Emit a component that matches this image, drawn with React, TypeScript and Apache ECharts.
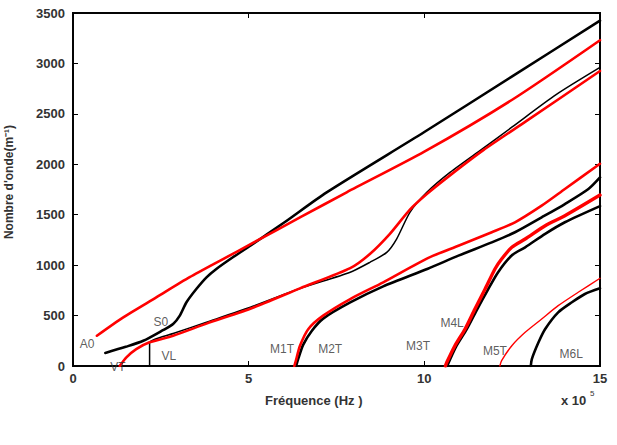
import React, { useEffect, useRef } from "react";
import * as echarts from "echarts";

// Axis ranges: frequency in units of 10^5 Hz, wavenumber in m^-1
const xRange = [0, 15];
const xStep = 5;
const yRange = [0, 3500];
const yStep = 500;

// Dispersion curves, points as [frequency (x10^5 Hz), wavenumber (m^-1)]
const modeA0 = [
  [0.68, 300], [1.42, 480], [2.37, 680], [3.32, 880], [4.27, 1060], [5.12, 1220],
  [6.5, 1480], [7.79, 1722], [10, 2125], [12.5, 2640], [15, 3230],
];
const modeS0 = [
  [0.92, 129], [1.5, 190], [2.0, 250], [2.56, 355], [2.85, 416], [3.04, 499],
  [3.23, 632], [3.51, 763], [3.8, 879], [4.08, 962], [4.55, 1078], [5.12, 1210],
  [6, 1420], [7.22, 1722], [10, 2320], [12.5, 2872], [15, 3424],
];
const modeVT = [
  [1.33, 0], [1.52, 86], [1.8, 168], [2.18, 235], [2.85, 300], [3.8, 420],
  [5.12, 578], [6.46, 770], [7.89, 970], [8.45, 1110], [9.02, 1310], [9.59, 1550],
  [10.07, 1705], [10.73, 1890], [11.68, 2140], [12.91, 2430], [15, 2925],
];
const modeVLRise = [[2.18, 0], [2.18, 240]];
const modeVL = [
  [2.18, 240], [2.35, 268], [2.85, 322], [3.8, 434], [5.12, 592], [6.46, 768],
  [7.89, 930], [8.45, 1028], [8.93, 1127], [9.21, 1259], [9.59, 1524], [10.07, 1722],
  [10.73, 1920], [11.68, 2160], [12.5, 2370], [13.75, 2690], [15, 2960],
];
const modeM1T = [
  [6.3, 0], [6.35, 60], [6.46, 200], [6.7, 367], [7.12, 499], [7.89, 664], [8.83, 830],
  [10.1, 1070], [10.97, 1193], [11.92, 1326], [12.58, 1425], [13.34, 1590], [14.0, 1755],
  [15, 2005],
];
const modeM2T = [
  [6.35, 0], [6.42, 80], [6.55, 210], [6.8, 350], [7.12, 470], [7.89, 630], [8.83, 790],
  [10.1, 965], [10.97, 1094], [11.92, 1226], [12.58, 1326], [13.34, 1474], [14.0, 1606],
  [14.67, 1755], [15, 1870],
];
const modeM3T = [
  [10.65, 0], [10.9, 190], [11.2, 360], [11.5, 560], [11.8, 750], [12.1, 930],
  [12.5, 1100], [12.87, 1177], [13.44, 1310], [14.0, 1425], [15, 1585],
];
const modeM4L = [
  [10.6, 0], [10.64, 37], [10.87, 201], [11.16, 367], [11.44, 565], [11.73, 763],
  [12.01, 962], [12.2, 1061], [12.49, 1177], [12.87, 1259], [13.44, 1391], [14.0, 1490],
  [15, 1695],
];
const modeM5T = [
  [12.15, 0], [12.2, 53], [12.49, 201], [12.87, 334], [13.34, 466], [13.81, 598],
  [14.38, 731], [15, 870],
];
const modeM6L = [
  [13.03, 0], [13.06, 69], [13.25, 235], [13.44, 367], [13.81, 532], [14.2, 632],
  [14.57, 714], [15, 770],
];

// Mode names, anchored in data coordinates
const modeLabels = [
  [0.4, 218, "A0"],
  [2.5, 436, "S0"],
  [1.28, -8, "VT"],
  [2.73, 99, "VL"],
  [5.95, 169, "M1T"],
  [7.32, 169, "M2T"],
  [9.82, 198, "M3T"],
  [10.79, 426, "M4L"],
  [12.01, 149, "M5T"],
  [14.18, 119, "M6L"],
];

const FONT = "'Liberation Sans', Arial, Helvetica, sans-serif";
const RED = "#ff0000";
const BLACK = "#000000";

const makeAxisLine = () => ({ show: true, onZero: false, lineStyle: { color: BLACK, width: 1.5 } });
const makeAxisTick = () => ({
  show: true,
  inside: true,
  length: 5,
  lineStyle: { color: BLACK, width: 1 },
});
const makeTickLabel = (margin: number) => ({
  show: true,
  margin,
  color: "#333",
  fontSize: 13,
  fontWeight: "bold",
  fontFamily: FONT,
  formatter: (v: number) => String(v),
});

export default function App() {
  const ref = useRef<HTMLDivElement>(null);

  useEffect(() => {
    if (!ref.current) return;
    const chart = echarts.init(ref.current, null, { renderer: "svg" });

    const curves = [
      { name: "S0", data: modeS0, color: BLACK, width: 2.6 },
      { name: "VL", data: modeVL, color: BLACK, width: 1.5 },
      { name: "VL rise", data: modeVLRise, color: BLACK, width: 1.5, straight: true },
      { name: "M2T", data: modeM2T, color: BLACK, width: 2.6 },
      { name: "M3T", data: modeM3T, color: BLACK, width: 2.6 },
      { name: "M6L", data: modeM6L, color: BLACK, width: 2.6 },
      { name: "A0", data: modeA0, color: RED, width: 2.6 },
      { name: "VT", data: modeVT, color: RED, width: 2.6 },
      { name: "M1T", data: modeM1T, color: RED, width: 2.6 },
      { name: "M4L", data: modeM4L, color: RED, width: 3.4 },
      { name: "M5T", data: modeM5T, color: RED, width: 1.4 },
    ];

    const frameAxis = (pos: string, range: number[], step: number) => ({
      type: "value",
      gridIndex: 0,
      min: range[0],
      max: range[1],
      interval: step,
      position: pos,
      axisLine: makeAxisLine(),
      axisTick: makeAxisTick(),
      splitLine: { show: false },
    });

    chart.setOption({
      animation: false,
      grid: {
        left: 73,
        right: 17,
        top: 13,
        bottom: 79,
        show: true,
        borderColor: "#111111",
        borderWidth: 2,
      },
      xAxis: [
        { ...frameAxis("bottom", xRange, xStep), axisLabel: makeTickLabel(6) },
        { ...frameAxis("top", xRange, xStep), axisLabel: { show: false } },
      ],
      yAxis: [
        { ...frameAxis("left", yRange, yStep), axisLabel: makeTickLabel(8) },
        { ...frameAxis("right", yRange, yStep), axisLabel: { show: false } },
      ],
      series: [
        ...curves.map((c) => ({
          name: c.name,
          type: "line",
          xAxisIndex: 0,
          yAxisIndex: 0,
          data: c.data,
          showSymbol: false,
          symbol: "none",
          smooth: c.straight ? false : 0.25,
          lineStyle: { color: c.color, width: c.width, cap: "round", join: "round" },
          z: c.color === RED ? 3 : 2,
        })),
        {
          // mode names, placed on the top/right axes (same scales as bottom/left)
          name: "labels",
          type: "scatter",
          xAxisIndex: 1,
          yAxisIndex: 1,
          data: modeLabels,
          symbolSize: 1,
          clip: false,
          itemStyle: { color: "rgba(0,0,0,0)" },
          label: {
            show: true,
            position: "inside",
            formatter: (p: any) => p.data[2],
            color: "#333",
            fontSize: 12,
            fontFamily: FONT,
          },
          z: 5,
        },
      ],
      graphic: [
        {
          type: "text",
          left: 265,
          top: 394,
          style: {
            text: "Fréquence (Hz )",
            fill: "#333",
            font: `bold 13px ${FONT}`,
          },
        },
        {
          type: "text",
          left: 561,
          top: 394,
          style: { text: "x 10", fill: "#333", font: `bold 13px ${FONT}` },
        },
        {
          type: "text",
          left: 590,
          top: 389,
          style: { text: "5", fill: "#333", font: `8px ${FONT}` },
        },
        {
          type: "text",
          x: 9,
          y: 182,
          rotation: Math.PI / 2,
          style: {
            text: "Nombre d'onde(m⁻¹)",
            fill: "#333",
            font: `bold 12px ${FONT}`,
            align: "center",
            verticalAlign: "middle",
          },
        },
      ],
    });

    return () => chart.dispose();
  }, []);

  return (
    <div
      ref={ref}
      style={{ position: "absolute", left: 0, top: 0, width: 617, height: 445 }}
    />
  );
}
